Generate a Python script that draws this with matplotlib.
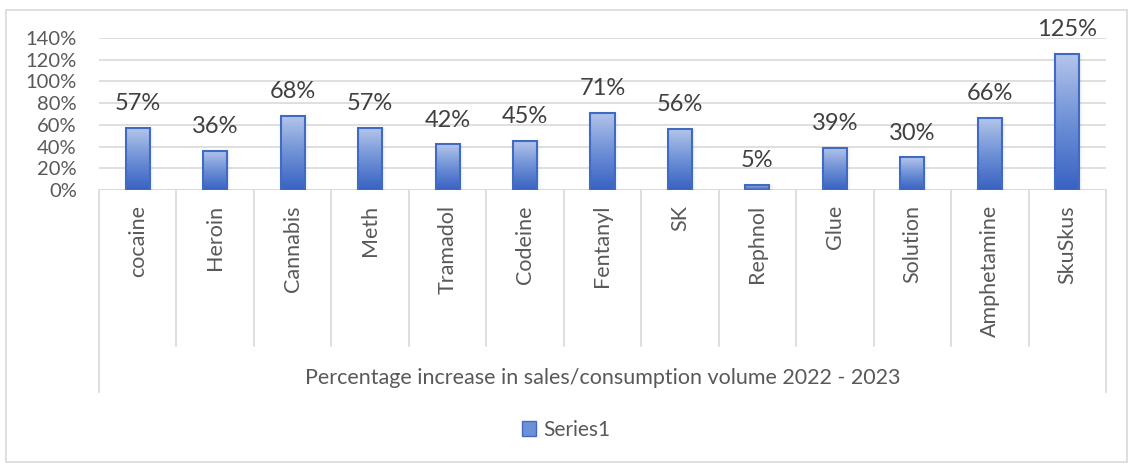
import numpy as np
import matplotlib.pyplot as plt
from matplotlib.colors import LinearSegmentedColormap
from matplotlib.patches import Rectangle, Patch
from matplotlib.transforms import blended_transform_factory

categories = ['cocaine', 'Heroin', 'Cannabis', 'Meth', 'Tramadol', 'Codeine',
              'Fentanyl', 'SK', 'Rephnol', 'Glue', 'Solution', 'Amphetamine', 'SkuSkus']
values = [57, 36, 68, 57, 42, 45, 71, 56, 5, 39, 30, 66, 125]
y_ticks = [0, 20, 40, 60, 80, 100, 120, 140]
group_label = 'Percentage increase in sales/consumption volume 2022 - 2023'
series_name = 'Series1'

plt.rcParams['font.family'] = ['Lato', 'DejaVu Sans']
text_col = '#595959'
grid_col = '#d9d9d9'

fig = plt.figure(figsize=(11.32, 4.65), dpi=100)
W, H = 1132, 465
ax = fig.add_axes([99 / W, 1 - 190 / H, (1106 - 99) / W, (190 - 38) / H])

n = len(categories)
x = np.arange(n)
ax.set_xlim(-0.5, n - 0.5)
ax.set_ylim(0, 140)

# gradient fill for the bars
cmap = LinearSegmentedColormap.from_list('bar', ['#3862c2', '#6e90d6', '#b3c5ea'])
grad = np.linspace(0, 1, 256).reshape(-1, 1)

bars = ax.bar(x, values, width=0.31, color='none', edgecolor='#3f6bc3', linewidth=1.5, zorder=3)
for b in bars:
    x0, y0 = b.get_x(), b.get_y()
    w, h = b.get_width(), b.get_height()
    # soft shadow to the right
    for k, a in enumerate([0.06, 0.04, 0.025]):
        ax.add_patch(Rectangle((x0 + 0.02 * (k + 1), y0), w, h, facecolor='#7a8aa8',
                               edgecolor='none', alpha=a, zorder=2))
    im = ax.imshow(grad, cmap=cmap, extent=[x0, x0 + w, y0, y0 + h], aspect='auto',
                   origin='lower', zorder=2.5)
    im.set_clip_path(b)

for xi, v in zip(x, values):
    ax.annotate(f'{v}%', (xi, v), xytext=(0, 10), textcoords='offset points',
                ha='center', va='bottom', fontsize=17, color='#404040')

ax.set_yticks(y_ticks)
ax.set_yticklabels([f'{t}%' for t in y_ticks], fontsize=14.5, color=text_col)
ax.tick_params(axis='y', length=0, pad=16)
ax.set_xticks([])
ax.grid(axis='y', color=grid_col, linewidth=1.2, zorder=0)
for s in ax.spines.values():
    s.set_visible(False)
ax.axhline(0, color=grid_col, linewidth=1.2, zorder=1)

# category table under the axis
tr = blended_transform_factory(ax.transData, ax.transAxes)
px = 1 / (190 - 38)
for i in range(n + 1):
    bottom = -(392 - 190) * px if i in (0, n) else -(346 - 190) * px
    ax.plot([i - 0.5, i - 0.5], [0, bottom], color=grid_col, linewidth=1.2,
            transform=tr, clip_on=False)
for xi, c in zip(x, categories):
    ax.text(xi, -(205 - 190) * px, c, rotation=90, ha='center', va='top',
            fontsize=15.5, color=text_col, transform=tr)
ax.text((n - 1) / 2, -(378 - 190) * px, group_label, ha='center', va='center',
        fontsize=15.5, color=text_col, transform=tr)

# chart border
fig.patches.append(Rectangle((6 / W, 1 - 462 / H), (1127 - 6) / W, (462 - 10) / H,
                             transform=fig.transFigure, fill=False,
                             edgecolor=grid_col, linewidth=1.2))

handle = Patch(facecolor='#6e90d6', edgecolor='#3f6bc3')
fig.legend([handle], [series_name], loc='center', bbox_to_anchor=(0.5, 1 - 430 / H),
           frameon=False, fontsize=15, labelcolor=text_col, handlelength=0.7,
           handleheight=0.7, handletextpad=0.35)

fig.savefig('out.png', dpi=100, facecolor='white')
